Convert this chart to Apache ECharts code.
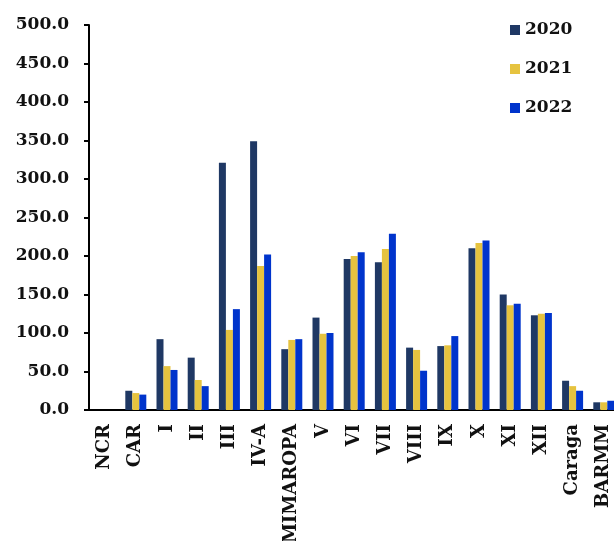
<!DOCTYPE html>
<html>
<head>
<meta charset="utf-8">
<script src="https://cdn.jsdelivr.net/npm/echarts@6/dist/echarts.min.js"></script>
<style>
  html, body { margin: 0; padding: 0; background: #ffffff; }
  #chart { width: 614px; height: 541px; }
</style>
</head>
<body>
<div id="chart"></div>
<script>
// Regions along the x axis
const regions = ['NCR', 'CAR', 'I', 'II', 'III', 'IV-A', 'MIMAROPA', 'V', 'VI', 'VII',
                 'VIII', 'IX', 'X', 'XI', 'XII', 'Caraga', 'BARMM'];

// Yearly values per region
const values2020 = [0, 25, 92, 68, 321, 349, 79, 120, 196, 192, 81, 83, 210, 150, 123, 38, 10];
const values2021 = [0, 22, 57, 39, 104, 187, 91, 99, 200, 209, 78, 84, 217, 136, 125, 31, 10];
const values2022 = [0, 20, 52, 31, 131, 202, 92, 100, 205, 229, 51, 96, 220, 138, 126, 25, 12];

const years = ['2020', '2021', '2022'];
const colors = ['#1f3864', '#e6c33f', '#0034cc'];

// Value axis ticks
const yMin = 0, yMax = 500, yStep = 50;

const font = 'DejaVu Serif';

const chart = echarts.init(document.getElementById('chart'), null, { renderer: 'canvas' });

const seriesData = [values2020, values2021, values2022];

chart.setOption({
  animation: false,
  backgroundColor: '#ffffff',
  color: colors,
  legend: {
    orient: 'vertical',
    left: 505,
    top: 15,
    itemWidth: 10,
    itemHeight: 10,
    itemGap: 19,
    icon: 'rect',
    textStyle: { fontFamily: font, fontSize: 17, fontWeight: 'bold', color: '#111', lineHeight: 20 },
    data: years
  },
  grid: { left: 89, top: 25, width: 530.4, height: 385, outerBoundsMode: 'none', containLabel: false },
  xAxis: {
    type: 'category',
    data: regions,
    axisLine: { lineStyle: { color: '#000', width: 2 } },
    axisTick: { alignWithLabel: true, length: 5, lineStyle: { color: '#000', width: 2 } },
    axisLabel: {
      rotate: 90,
      interval: 0,
      margin: 14,
      fontFamily: font,
      fontSize: 18,
      fontWeight: 'bold',
      color: '#111'
    }
  },
  yAxis: {
    type: 'value',
    min: yMin,
    max: yMax,
    interval: yStep,
    splitLine: { show: false },
    axisLine: { show: true, lineStyle: { color: '#000', width: 2 } },
    axisTick: { show: true, length: 5, lineStyle: { color: '#000', width: 2 } },
    axisLabel: {
      margin: 20,
      fontFamily: font,
      fontSize: 17,
      fontWeight: 'bold',
      color: '#111',
      formatter: v => v.toFixed(1)
    }
  },
  series: years.map((y, i) => ({
    name: y,
    type: 'bar',
    data: seriesData[i],
    barGap: '0%',
    barWidth: 7,
    itemStyle: { color: colors[i] }
  }))
});
</script>
</body>
</html>
